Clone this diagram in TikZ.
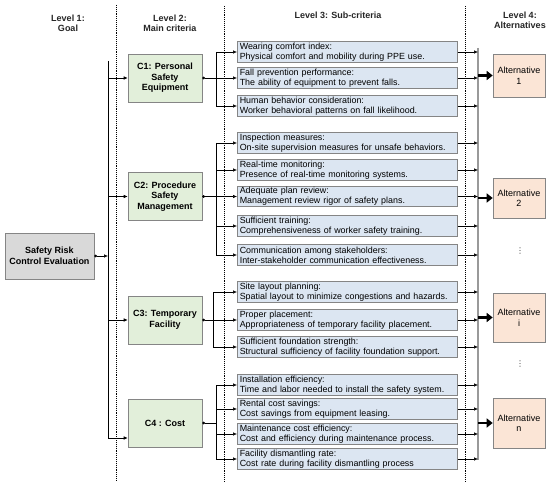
\documentclass[tikz,border=0pt]{standalone}
\usepackage{fontspec}
\setmainfont{Liberation Sans}
\newfontfamily\symfont{DejaVu Sans}
\usetikzlibrary{arrows.meta,calc}
\definecolor{goalfill}{HTML}{D9D9D9}
\definecolor{critfill}{HTML}{E2EFDA}
\definecolor{subfill}{HTML}{DCE6F2}
\definecolor{altfill}{HTML}{FBE5D6}
\definecolor{edgegray}{HTML}{858585}
\definecolor{headtext}{HTML}{262626}
\tikzset{
  boxbase/.style={draw=edgegray, line width=0.6pt, align=center, inner sep=1pt},
  goalbox/.style={boxbase, fill=goalfill, minimum width=89pt, minimum height=46pt, font=\fontsize{9}{10.5}\selectfont\bfseries},
  critbox/.style={boxbase, fill=critfill, minimum width=74pt, minimum height=48pt, font=\fontsize{9}{10.5}\selectfont\bfseries},
  subbox/.style={draw=edgegray, line width=0.6pt, fill=subfill, anchor=west, text width=215pt, align=left, minimum height=20.5pt, inner xsep=2.5pt, inner ysep=0.5pt, font=\fontsize{8.9}{10}\selectfont},
  altbox/.style={boxbase, fill=altfill, minimum width=52pt, font=\fontsize{9}{10.5}\selectfont},
  header/.style={align=center, text=headtext, font=\fontsize{9}{10}\selectfont\bfseries},
  vdotnode/.style={inner sep=0pt, text=darkgray, font=\symfont\fontsize{8}{8}\selectfont},
  arr/.style={-{Latex[length=4pt,width=3.6pt]}, line width=0.6pt},
  dotarr/.style={{Circle[length=2.6pt]}-{Latex[length=4pt,width=3.6pt]}, line width=0.6pt},
  dotline/.style={{Circle[length=2.6pt]}-, line width=0.6pt},
  plain/.style={line width=0.6pt},
  graybus/.style={draw=gray!80, line width=1.3pt},
  bigarr/.style={-{Triangle[length=6pt,width=9pt]}, line width=2.8pt},
  sep/.style={densely dotted, line width=0.9pt},
}
\begin{document}
\begin{tikzpicture}[x=1pt,y=-1pt]
\useasboundingbox[fill=white] (0,0) rectangle (550,487);
% separators
\draw[sep] (116.5,5) -- (116.5,481);
\draw[sep] (224,6) -- (224,482);
\draw[sep] (465,6) -- (465,482);
% headers
\node[header] (h1) at (68,23) {Level 1:\\Goal};
\node[header] (h2) at (170,23) {Level 2:\\Main criteria};
\node[header] (h3) at (338,15) {Level 3: Sub-criteria};
\node[header] (h4) at (520,20) {Level 4:\\Alternatives};
% goal
\node[goalbox] (goal) at (49.5,256) {Safety Risk\\Control Evaluation};
% criteria
\node[critbox] (c1) at (165,78) {C1: Personal\\Safety\\Equipment};
\node[critbox] (c2) at (165,196.5) {C2: Procedure\\Safety\\Management};
\node[critbox] (c3) at (165,320) {C3: Temporary\\Facility};
\node[critbox] (c4) at (165,423) {C4 : Cost};
% sub-criteria
\node[subbox] (s1) at (237,52) {Wearing comfort index:\\Physical comfort and mobility during PPE use.};
\node[subbox] (s2) at (237,78) {Fall prevention performance:\\The ability of equipment to prevent falls.};
\node[subbox] (s3) at (237,106) {Human behavior consideration:\\Worker behavioral patterns on fall likelihood.};
\node[subbox] (s4) at (237,143) {Inspection measures:\\On-site supervision measures for unsafe behaviors.};
\node[subbox] (s5) at (237,170) {Real-time monitoring:\\Presence of real-time monitoring systems.};
\node[subbox] (s6) at (237,196.5) {Adequate plan review:\\Management review rigor of safety plans.};
\node[subbox] (s7) at (237,226) {Sufficient training:\\Comprehensiveness of worker safety training.};
\node[subbox] (s8) at (237,255) {Communication among stakeholders:\\Inter-stakeholder communication effectiveness.};
\node[subbox] (s9) at (237,292) {Site layout planning:\\Spatial layout to minimize congestions and hazards.};
\node[subbox] (s10) at (237,320) {Proper placement:\\Appropriateness of temporary facility placement.};
\node[subbox] (s11) at (237,347) {Sufficient foundation strength:\\Structural sufficiency of facility foundation support.};
\node[subbox] (s12) at (237,385) {Installation efficiency:\\Time and labor needed to install the safety system.};
\node[subbox] (s13) at (237,409) {Rental cost savings:\\Cost savings from equipment leasing.};
\node[subbox] (s14) at (237,434) {Maintenance cost efficiency:\\Cost and efficiency during maintenance process.};
\node[subbox] (s15) at (237,459) {Facility dismantling rate:\\Cost rate during facility dismantling process};
% alternatives
\node[altbox, minimum height=43pt] (a1) at (519,75.5) {Alternative\\1};
\node[altbox, minimum height=40pt] (a2) at (519,198) {Alternative\\2};
\node[altbox, minimum height=49pt] (ai) at (519,317.5) {Alternative\\i};
\node[altbox, minimum height=50pt] (an) at (519,423) {Alternative\\n};
\node[vdotnode] (vd1) at (520,251) {⋮};
\node[vdotnode] (vd2) at (520,364) {⋮};
% goal -> criteria
\coordinate (gtop) at (108,61);
\coordinate (gbot) at (108,438);
\draw[dotarr] (goal.east) -- (goal.east -| gtop);
\draw[plain] (gtop) -- (gbot);
\draw[arr] (gtop |- c1.west) -- (c1.west);
\draw[arr] (gtop |- c2.west) -- (c2.west);
\draw[arr] (gtop |- c3.west) -- (c3.west);
\draw[arr] (gbot) -- (gbot -| c4.west);
% criteria -> sub-criteria
\coordinate (b1) at (216,0);
\coordinate (b3) at (213,0);
\draw[dotline] (c1.east) -- (c1.east -| b1);
\draw[plain] (b1 |- s1.west) -- (b1 |- s3.west);
\foreach \s in {s1,s2,s3} \draw[arr] (b1 |- \s.west) -- (\s.west);
\draw[dotline] (c2.east) -- (c2.east -| b1);
\draw[plain] (b1 |- s4.west) -- (b1 |- s8.west);
\foreach \s in {s4,s5,s6,s7,s8} \draw[arr] (b1 |- \s.west) -- (\s.west);
\draw[dotline] (c3.east) -- (c3.east -| b3);
\draw[plain] (b3 |- s9.west) -- (b3 |- s11.west);
\foreach \s in {s9,s10,s11} \draw[arr] (b3 |- \s.west) -- (\s.west);
\draw[dotline] (c4.east) -- (c4.east -| b1);
\draw[plain] (b1 |- s12.west) -- (b1 |- s15.west);
\foreach \s in {s12,s13,s14,s15} \draw[arr] (b1 |- \s.west) -- (\s.west);
% sub-criteria -> alternatives bus
\coordinate (rtop) at (478,48);
\coordinate (rbot) at (478,460);
\draw[graybus] (rtop) -- (rbot);
\foreach \s in {s1,s2,s3,s4,s5,s6,s7,s8,s9,s10,s11,s12,s13,s14,s15} \draw[arr] (\s.east) -- (\s.east -| rtop);
\foreach \a in {a1,a2,ai,an} \draw[bigarr] (rtop |- \a.west) -- (\a.west);
\end{tikzpicture}
\end{document}
